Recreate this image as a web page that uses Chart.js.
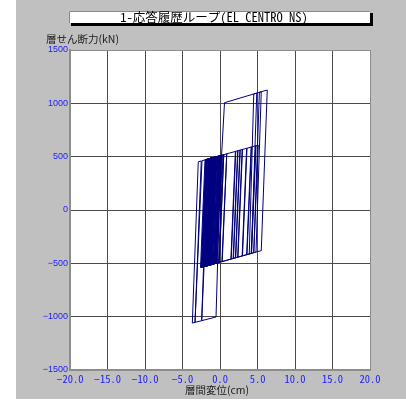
<!DOCTYPE html>
<html>
<head>
<meta charset="utf-8">
<script src="https://cdn.jsdelivr.net/npm/chart.js"></script>
<style>
  html, body { margin: 0; padding: 0; background: #fff; }
  canvas { display: block; }
</style>
</head>
<body>
<canvas id="loopChart" width="406" height="401"></canvas>
<script>
// 1-応答履歴ループ : story drift vs story shear under EL CENTRO NS
const chartTitle = '1-応答履歴ループ(EL CENTRO NS)';
const yTitle = '層せん断力(kN)';
const xTitle = '層間変位(cm)';

const xTickValues = [-20, -15, -10, -5, 0, 5, 10, 15, 20];
const xTickLabels = ['−20.0', '−15.0', '−10.0', '−5.0', '0.0', '5.0', '10.0', '15.0', '20.0'];
const yTickValues = [-1500, -1000, -500, 0, 500, 1000, 1500];
const yTickLabels = ['−1500', '−1000', '−500', '0', '500', '1000', '1500'];

// loop vertices, in order (drift cm / shear kN)
const drift = [
  // small cycles round zero
  0, 0.3, 0.5, -0.1, -0.5, 0.1, 0.2, -0.4, -0.9, -0.3,
  -0.1, -0.7, -1.3, -0.7, -0.5, -1.1, -1.7, -1.1, -0.8, -1.4,
  -2.0, -1.4, -1.2, -1.8, -2.3, -1.7, -1.5, -2.1, -2.6, -2.0,
  -1.8, -2.4, -2.5, -1.9, -1.6, -2.2, -2.3, -1.7, -1.3, -1.9,
  -2.1, -1.5, -1.0, -1.6, -2.0, -1.4, -0.9, -1.5, -1.8, -1.2,
  -0.6, -1.2, -1.5, -0.9, -0.3, -0.9, -1.2, -0.6, 0.0, -0.6,
  -0.7, -0.1, 0.1,
  // negative excursion
  -0.53, -3.69, -2.9, -2.5, -3.33, -2.4, -1.7, -2.44, -1.5, -1.1,
  -1.7, -2.2, -1.6, -1.2, -1.8, -2.5, -1.9, -1.4, -2.0, -2.4,
  -1.8, -1.0, -1.6, -2.0, -1.4, -0.7, -1.3, -1.9, -1.3, -0.4,
  -1.0, -1.6, -1.0, -0.2, -0.8, -1.3, -0.7, 0.1, -0.5, -0.6,
  // drift to the right
  0.0, 2.1, 1.5, 1.45, 2.05, 2.4, 1.8, 1.75, 2.35, 2.7,
  2.1, 2.05, 2.65, 3.0, 2.4, 2.35, 2.95, 3.6, 3.0, 2.95,
  3.55, 4.2, 3.6, 3.55, 4.15, 4.8, 4.2, 4.15, 4.75, 5.1,
  4.5, 0.3, 0.9, 0.25, -0.6,
  // positive excursion
  0.6, 4.9, 4.2, 3.9, 4.5, 5.5, 4.8, 4.5, 5.25, 6.3, 5.5, -0.2,
  // tail
  0.4, 0.5, -0.1, -0.8, -0.2, 0.0, -0.6, -1.4, -0.8, -0.5,
  -1.1, -1.9, -1.3, -1.1, -1.7, -2.2, -1.6, -1.0, -1.6, -1.7,
  -1.1, -0.6, -1.2, -1.4, -0.8, -0.5, -1.1, -1.2, -0.8, -0.95, -0.85
];
const shear = [
  0, 515, 519, -491, -499, 511, 513, -497, -507, 503,
  507, -503, -515, 495, 499, -511, -523, 488, 493, -517,
  -528, 482, 486, -524, -534, 476, 480, -530, -540, 470,
  474, -536, -538, 472, 478, -532, -534, 476, 484, -526,
  -530, 480, 490, -521, -528, 482, 491, -519, -524, 486,
  497, -513, -519, 491, 503, -507, -513, 497, 509, -501,
  -503, 507, 511,
  -1003, -1060, 452, 460, -1053, 462, 476, -1037, 480, 488,
  -523, -532, 478, 486, -524, -538, 472, 482, -528, -536,
  474, 490, -521, -528, 482, 495, -515, -526, 484, 501,
  -509, -521, 490, 505, -505, -515, 495, 511, -499, -501,
  509, 550, -459, -460, 549, 556, -454, -455, 555, 562,
  -448, -449, 561, 568, -442, -443, 567, 579, -430, -431,
  578, 591, -418, -419, 590, 603, -406, -407, 602, 608,
  -400, -483, 527, -484, -501,
  1006, 1096, -406, -412, 1088, 1108, -394, -400, 1103, 1125, -381, -493,
  517, 519, -491, -505, 505, 509, -501, -517, 493, 499,
  -511, -526, 484, 488, -523, -532, 478, 490, -521, -523,
  488, 497, -513, -517, 493, 499, -511, -513, 100, -200, 0
];

const monoFont = '"Noto Sans Mono CJK JP", "Liberation Mono", monospace';
const jpFont = '"Noto Sans CJK JP", sans-serif';

// gray panel, title box and the axis captions
const frame = {
  id: 'frame',
  beforeDraw(chart) {
    const ctx = chart.ctx;
    const a = chart.chartArea;
    ctx.save();
    ctx.fillStyle = '#ffffff';
    ctx.fillRect(0, 0, chart.width, chart.height);
    ctx.fillStyle = '#c0c0c0';
    ctx.fillRect(16, 0, chart.width - 16, 399);
    ctx.fillStyle = '#ffffff';
    ctx.fillRect(a.left, a.top, a.right - a.left, a.bottom - a.top);
    ctx.restore();
  },
  afterDraw(chart) {
    const ctx = chart.ctx;
    ctx.save();
    // title box with black drop shadow
    ctx.fillStyle = '#000000';
    ctx.fillRect(71, 13, 302, 13);
    ctx.fillStyle = '#ffffff';
    ctx.fillRect(69, 11, 301, 12);
    ctx.strokeStyle = '#8a8a8a';
    ctx.lineWidth = 1;
    ctx.beginPath();
    ctx.moveTo(69.5, 23);
    ctx.lineTo(69.5, 11.5);
    ctx.lineTo(370, 11.5);
    ctx.stroke();

    ctx.fillStyle = '#000000';
    ctx.textAlign = 'center';
    ctx.textBaseline = 'middle';
    ctx.font = '12.5px ' + monoFont;
    ctx.fillText(chartTitle, 214, 17.5);

    ctx.fillStyle = '#202020';
    ctx.font = '10.5px ' + jpFont;
    ctx.textAlign = 'left';
    ctx.fillText(yTitle, 46, 39.5);
    ctx.textAlign = 'center';
    ctx.fillText(xTitle, 217, 390);
    ctx.restore();
  }
};

const edgeGray = '#8c8c8c';
const gridGray = '#4a4a4a';

new Chart(document.getElementById('loopChart'), {
  type: 'scatter',
  data: {
    datasets: [{
      data: drift.map((x, i) => ({ x: x, y: shear[i] })),
      showLine: true,
      borderColor: '#000080',
      borderWidth: 1,
      borderJoinStyle: 'bevel',
      pointRadius: 0,
      tension: 0,
      fill: false
    }]
  },
  options: {
    responsive: false,
    animation: false,
    devicePixelRatio: 1,
    layout: { padding: { left: 0, right: 36, top: 50, bottom: 0 } },
    plugins: {
      legend: { display: false },
      tooltip: { enabled: false },
      title: { display: false }
    },
    scales: {
      x: {
        type: 'linear',
        min: -20,
        max: 20,
        afterFit(scale) { scale.height = 31; },
        ticks: {
          stepSize: 5,
          autoSkip: false,
          maxRotation: 0,
          padding: 3,
          color: '#1a1aff',
          font: { family: monoFont, size: 10.5 },
          callback: v => xTickLabels[xTickValues.indexOf(v)]
        },
        grid: {
          drawTicks: false,
          color: c => (c.tick && Math.abs(c.tick.value) === 20) ? edgeGray : gridGray
        },
        border: { color: edgeGray, width: 2 }
      },
      y: {
        type: 'linear',
        min: -1500,
        max: 1500,
        afterFit(scale) { scale.width = 70; },
        ticks: {
          stepSize: 500,
          padding: 2,
          color: '#1a1aff',
          font: { family: '"Liberation Sans", Arial, sans-serif', size: 9 },
          callback: v => yTickLabels[yTickValues.indexOf(v)]
        },
        grid: {
          drawTicks: false,
          color: c => (c.tick && Math.abs(c.tick.value) === 1500) ? edgeGray : gridGray
        },
        border: { color: edgeGray, width: 2 }
      }
    }
  },
  plugins: [frame]
});
</script>
</body>
</html>
